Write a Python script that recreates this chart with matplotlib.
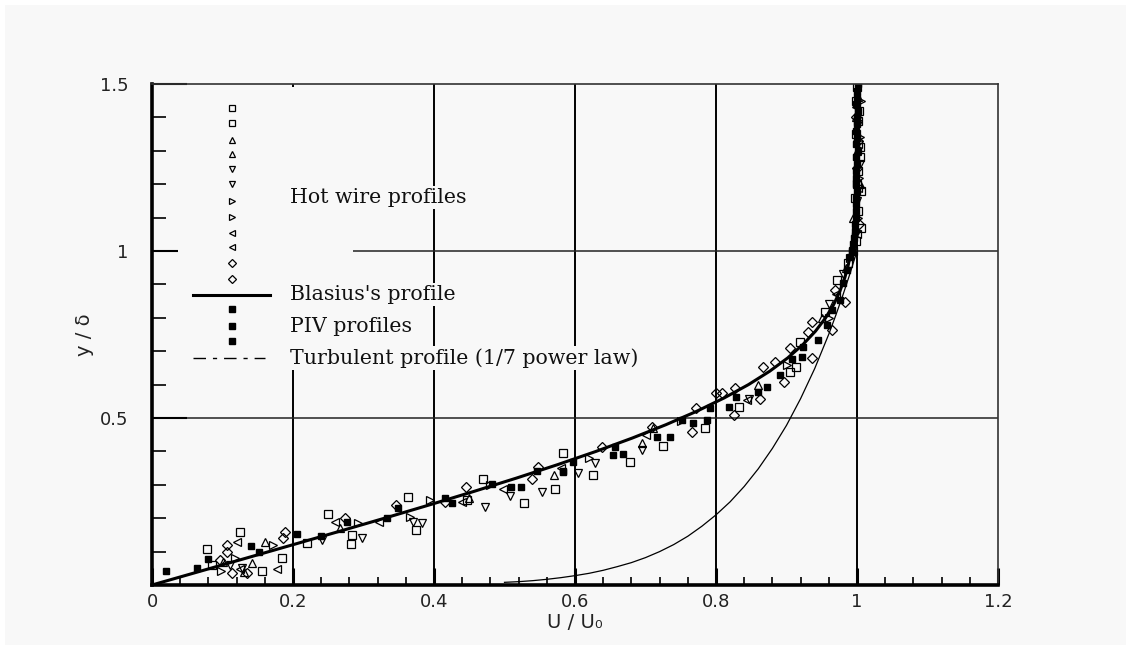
import matplotlib
matplotlib.use("Agg")
import matplotlib.pyplot as plt
from matplotlib.patches import Rectangle
from matplotlib.ticker import MultipleLocator

# ---------------- data ----------------
# Blasius laminar profile
blasius_U = [0.0, 0.0664, 0.1328, 0.1989, 0.2647, 0.3298, 0.3938, 0.4563, 0.5168, 0.5748,
             0.6298, 0.6813, 0.7290, 0.7725, 0.8115, 0.8461, 0.8761, 0.9018, 0.9233, 0.9411,
             0.9555, 0.9670, 0.9758, 0.9827, 0.9878, 0.9916, 0.9943, 0.9962, 0.9975, 0.9984,
             0.9990, 0.9994, 0.9996, 0.9999, 1.0]
blasius_y = [0.0, 0.04, 0.08, 0.12, 0.16, 0.20, 0.24, 0.28, 0.32, 0.36,
             0.40, 0.44, 0.48, 0.52, 0.56, 0.60, 0.64, 0.68, 0.72, 0.76,
             0.80, 0.84, 0.88, 0.92, 0.96, 1.00, 1.04, 1.08, 1.12, 1.16,
             1.20, 1.24, 1.28, 1.36, 1.50]

# Turbulent profile (1/7 power law)
turb_U = [0.50, 0.52, 0.54, 0.56, 0.58, 0.60, 0.62, 0.64, 0.66, 0.68, 0.70, 0.72, 0.74, 0.76,
          0.78, 0.80, 0.82, 0.84, 0.86, 0.88, 0.90, 0.92, 0.94, 0.96, 0.97, 0.98, 0.99, 1.00]
turb_y = [0.008, 0.010, 0.013, 0.017, 0.022, 0.028, 0.035, 0.044, 0.055, 0.067, 0.082, 0.100,
          0.121, 0.146, 0.176, 0.210, 0.249, 0.295, 0.348, 0.409, 0.478, 0.558, 0.648, 0.751,
          0.808, 0.868, 0.932, 1.000]

# Hot wire profiles (open markers)
sq_U = [0.078, 0.125, 0.156, 0.184, 0.085, 0.220, 0.250, 0.284, 0.282, 0.363, 0.374, 0.447, 0.470,
        0.528, 0.572, 0.583, 0.626, 0.678, 0.725, 0.784, 0.833, 0.913, 0.905, 0.919, 0.955, 0.972,
        0.987, 0.998, 1.002, 1.000, 1.004, 0.999, 1.003, 1.000, 0.995, 1.002, 1.005, 0.997,
        1.004, 1.001, 0.998, 1.005]
sq_y = [0.107, 0.159, 0.042, 0.081, 0.060, 0.126, 0.213, 0.150, 0.123, 0.263, 0.165, 0.254, 0.317,
        0.245, 0.287, 0.395, 0.329, 0.368, 0.416, 0.470, 0.533, 0.653, 0.638, 0.728, 0.817, 0.913,
        0.964, 1.030, 1.120, 1.200, 1.280, 1.350, 1.420, 1.490, 1.000, 1.240, 1.070, 1.160,
        1.310, 1.390, 1.450, 1.180]

up_U = [0.160, 0.142, 0.267, 0.100, 0.130, 0.695, 0.710, 0.570, 0.450, 0.995, 1.000, 0.985, 0.950,
        0.860, 1.002, 1.004, 0.999]
up_y = [0.129, 0.066, 0.171, 0.070, 0.040, 0.425, 0.470, 0.330, 0.260, 1.100, 1.300, 0.950, 0.800,
        0.600, 1.460, 1.200, 1.400]

dn_U = [0.128, 0.241, 0.298, 0.383, 0.370, 0.472, 0.508, 0.553, 0.604, 0.628, 0.695, 0.847, 0.980,
        1.000, 1.002, 0.960, 0.110, 1.004, 0.998]
dn_y = [0.051, 0.135, 0.141, 0.186, 0.189, 0.234, 0.266, 0.278, 0.335, 0.365, 0.404, 0.557, 0.930,
        1.150, 1.380, 0.840, 0.060, 1.260, 1.050]

rt_U = [0.098, 0.172, 0.118, 0.292, 0.366, 0.394, 0.480, 0.620, 0.750, 0.900, 0.990, 1.003, 1.005,
        0.960, 1.004, 1.002]
rt_y = [0.042, 0.120, 0.081, 0.186, 0.204, 0.254, 0.300, 0.380, 0.490, 0.660, 0.980, 1.220, 1.450,
        0.800, 1.340, 1.100]

lt_U = [0.121, 0.177, 0.125, 0.260, 0.322, 0.498, 0.844, 0.700, 0.580, 0.440, 0.970, 1.000, 1.002,
        1.001, 0.999]
lt_y = [0.129, 0.048, 0.048, 0.190, 0.190, 0.287, 0.554, 0.450, 0.350, 0.250, 0.870, 1.050, 1.320,
        1.190, 1.430]

dm_U = [0.106, 0.106, 0.113, 0.189, 0.186, 0.096, 0.274, 0.346, 0.445, 0.539, 0.548, 0.638, 0.709,
        0.772, 0.766, 0.809, 0.827, 0.826, 0.862, 0.896, 0.884, 0.867, 0.936, 0.905, 0.936, 0.930,
        0.965, 0.983, 0.969, 0.800, 0.415, 0.135, 1.000, 0.998, 1.003, 1.001]
dm_y = [0.120, 0.100, 0.036, 0.159, 0.141, 0.075, 0.200, 0.240, 0.293, 0.317, 0.353, 0.413, 0.473,
        0.530, 0.458, 0.575, 0.590, 0.509, 0.557, 0.608, 0.668, 0.653, 0.680, 0.710, 0.787, 0.757,
        0.763, 0.847, 0.883, 0.575, 0.250, 0.035, 1.250, 1.400, 1.080, 1.330]

# PIV profiles (filled squares)
piv_U = [0.020, 0.064, 0.080, 0.140, 0.152, 0.206, 0.240, 0.276, 0.333, 0.349, 0.416, 0.426, 0.482,
         0.509, 0.523, 0.546, 0.583, 0.597, 0.583, 0.654, 0.668, 0.657, 0.716, 0.735, 0.752, 0.767,
         0.791, 0.787, 0.818, 0.829, 0.860, 0.872, 0.891, 0.908, 0.922, 0.923, 0.945, 0.957, 0.965,
         0.976, 0.980, 0.986, 0.990, 0.995, 0.997, 0.998, 0.999, 1.000, 0.999, 1.000, 1.001, 1.000,
         1.000, 1.001, 1.000, 1.002, 0.993, 0.996, 0.997, 0.998, 0.998, 0.999, 0.999, 0.998,
         0.999, 0.999, 1.000, 0.999, 1.000]
piv_y = [0.042, 0.051, 0.077, 0.117, 0.100, 0.153, 0.147, 0.189, 0.200, 0.230, 0.260, 0.245, 0.302,
         0.293, 0.293, 0.341, 0.341, 0.368, 0.338, 0.389, 0.392, 0.413, 0.443, 0.443, 0.494, 0.485,
         0.530, 0.494, 0.533, 0.563, 0.578, 0.593, 0.629, 0.677, 0.683, 0.713, 0.734, 0.778, 0.823,
         0.853, 0.904, 0.943, 0.982, 1.020, 1.060, 1.100, 1.140, 1.180, 1.220, 1.260, 1.300, 1.340,
         1.380, 1.420, 1.460, 1.500, 1.000, 1.040, 1.080, 1.120, 1.160, 1.200, 1.240, 1.280,
         1.320, 1.360, 1.400, 1.440, 1.480]

x_ticks = [0, 0.2, 0.4, 0.6, 0.8, 1.0, 1.2]
x_ticklabels = ["0", "0.2", "0.4", "0.6", "0.8", "1", "1.2"]
y_ticks = [0.5, 1.0, 1.5]
y_ticklabels = ["0.5", "1", "1.5"]

legend_labels = ["Hot wire profiles", "Blasius's profile", "PIV profiles",
                 "Turbulent profile (1/7 power law)"]

# ---------------- figure ----------------
BG = "#f8f8f8"
fig = plt.figure(figsize=(11.31, 6.5), dpi=100, facecolor="white")
fig.patches.append(Rectangle((5 / 1131, 5 / 650), 1121 / 1131, 640 / 650,
                             transform=fig.transFigure, facecolor=BG, edgecolor="none", zorder=-10))
ax = fig.add_axes([152 / 1131, 1 - 585 / 650, 846 / 1131, 501 / 650])
ax.set_zorder(1)
ax.set_facecolor(BG)
ax.set_xlim(0, 1.2)
ax.set_ylim(0, 1.5)

# grid
for xv in [0.2, 0.4, 0.6, 0.8, 1.0]:
    ax.axvline(xv, color="black", lw=1.4, zorder=1)
for yv in [0.5, 1.0]:
    ax.axhline(yv, color="#222222", lw=1.1, zorder=1)

# curves
ax.plot(blasius_U, blasius_y, color="black", lw=2.2, zorder=4)
ax.plot(turb_U, turb_y, color="black", lw=0.9, zorder=4)

mk = dict(linestyle="none", markerfacecolor="none", markeredgecolor="black",
          markeredgewidth=0.9, zorder=5)
ax.plot(sq_U, sq_y, marker="s", markersize=5.5, **mk)
ax.plot(up_U, up_y, marker="^", markersize=6, **mk)
ax.plot(dn_U, dn_y, marker="v", markersize=6, **mk)
ax.plot(rt_U, rt_y, marker=">", markersize=6, **mk)
ax.plot(lt_U, lt_y, marker="<", markersize=6, **mk)
ax.plot(dm_U, dm_y, marker="D", markersize=5.5, **mk)
ax.plot(piv_U, piv_y, marker="s", markersize=4.4, linestyle="none",
        color="black", zorder=5)

# legend (drawn manually)
ax.add_patch(Rectangle((0.031, 0.43), 0.207, 0.565, transform=ax.transAxes,
                       facecolor=BG, edgecolor="none", zorder=2))
lx = 0.0946
leg_markers = ["s", "s", "^", "^", "v", "v", ">", ">", "<", "<", "D", "D"]
leg_ys = [0.952, 0.922, 0.888, 0.860, 0.830, 0.800, 0.766, 0.735, 0.703, 0.675, 0.643, 0.611]
for m, yy in zip(leg_markers, leg_ys):
    ax.plot([lx], [yy], marker=m, markersize=4.5 if m != "D" else 4.2,
            transform=ax.transAxes, clip_on=False, **mk)
ax.plot([0.0485, 0.1395], [0.579, 0.579], color="black", lw=2.2,
        transform=ax.transAxes, zorder=5)
for yy in [0.551, 0.517, 0.487]:
    ax.plot([lx], [yy], marker="s", markersize=4, color="black",
            transform=ax.transAxes, zorder=5)
ax.plot([0.0485, 0.134], [0.453, 0.453], color="black", lw=1.0,
        dashes=(9, 5, 3, 5), transform=ax.transAxes, zorder=5)

tx = 0.163
text_kw = dict(transform=ax.transAxes, fontsize=14.8, family="DejaVu Serif",
               va="center", ha="left", zorder=6, color="#111111",
               bbox=dict(facecolor=BG, edgecolor="none", pad=1.5))
for lab, yy in zip(legend_labels, [0.774, 0.579, 0.515, 0.453]):
    ax.text(tx, yy, lab, **text_kw)

# spines
for side in ["left", "bottom"]:
    ax.spines[side].set_linewidth(2.6)
    ax.spines[side].set_color("black")
for side in ["top", "right"]:
    ax.spines[side].set_linewidth(1.2)
    ax.spines[side].set_color("#333333")
for s in ax.spines.values():
    s.set_zorder(7)

# ticks
ax.set_xticks(x_ticks)
ax.set_xticklabels(x_ticklabels)
ax.set_yticks(y_ticks)
ax.set_yticklabels(y_ticklabels)
ax.xaxis.set_minor_locator(MultipleLocator(0.04))
ax.yaxis.set_minor_locator(MultipleLocator(0.1))
ax.tick_params(axis="x", which="major", direction="in", length=12, width=2.2,
               labelsize=13, pad=6, colors="black")
ax.tick_params(axis="x", which="minor", direction="in", length=6, width=1.2)
ax.tick_params(axis="y", which="major", direction="in", length=25, width=1.5,
               labelsize=13, pad=17)
ax.tick_params(axis="y", which="minor", direction="in", length=10, width=1.2)
for lab in ax.get_xticklabels() + ax.get_yticklabels():
    lab.set_color("#222222")

ax.set_xlabel("U / U\u2080", fontsize=14, labelpad=1, color="#222222")
ax.set_ylabel("y / \u03b4", fontsize=14, labelpad=4, color="#222222")

fig.savefig("out.png", dpi=100, facecolor=fig.get_facecolor())
